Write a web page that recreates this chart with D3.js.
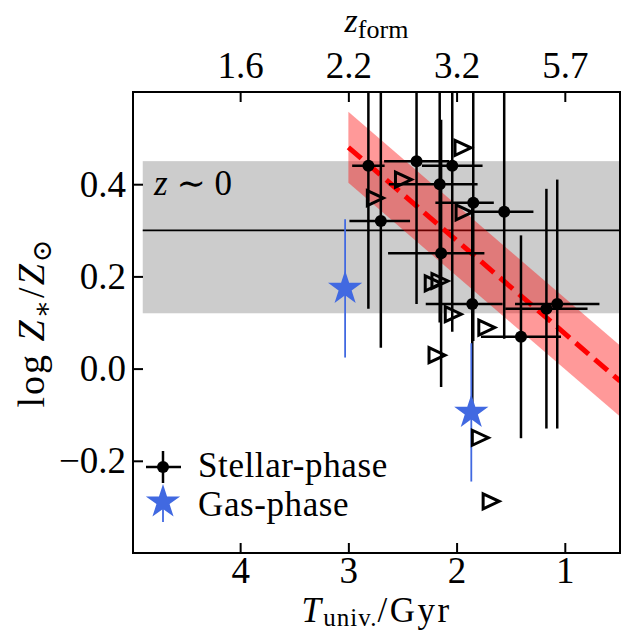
<!DOCTYPE html>
<html>
<head>
<meta charset="utf-8">
<title>Metallicity vs formation time</title>
<style>
  body { margin: 0; background: #fff; }
  .lbl { font-family: "Liberation Serif", "DejaVu Serif", serif; fill: #000; }
</style>
</head>
<body>
<div id="chart"></div>
<script src="https://cdn.jsdelivr.net/npm/d3@7/dist/d3.min.js"></script>
<script>
// stellar-phase measurements (age of universe in Gyr, log Z*/Zsun)
var stellarT      = [2.815, 2.70, 2.37, 2.04, 2.156, 2.143, 1.846, 1.855, 1.56, 1.405, 1.17, 1.07];
var stellarZ      = [0.44, 0.32, 0.45, 0.44, 0.40, 0.25, 0.36, 0.14, 0.34, 0.069, 0.13, 0.14];
var stellarTOlder = [0.15, 0.29, 0.30, 0.28, 0.47, 0.49, 0.35, 0.43, 0.33, 0.37, 0.38, 0.39];
var stellarTYoung = [0.15, 0.27, 0.30, 0.28, 0.35, 0.40, 0.19, 0.28, 0.27, 0.37, 0.38, 0.39];
var stellarZLo    = [0.31, 0.275, 0.31, 0.36, 0.30, 0.29, 0.30, 0.23, 0.275, 0.22, 0.26, 0.27];
var stellarZHi    = [0.31, 0.30, 0.31, 0.36, 0.30, 0.29, 0.30, 0.23, 0.30, 0.22, 0.26, 0.27];

// open right-pointing triangles
var limitT = [1.95, 2.50, 2.76, 1.94, 2.225, 2.163, 2.04, 1.73, 2.19, 1.79, 1.69];
var limitZ = [0.479, 0.41, 0.37, 0.339, 0.185, 0.19, 0.118, 0.089, 0.029, -0.15, -0.288];

// gas-phase measurements
var gasT   = [3.03, 1.864];
var gasZ   = [0.174, -0.095];
var gasErr = [0.15, 0.15];

// local (z~0) band and median
var localBand = [0.12, 0.45];
var localLine = 0.30;

// linear fit and its uncertainty
var fitT   = [3.0, 0.49];
var fitZ   = [0.48, -0.027];
var fitErr = 0.077;

var xTicks     = [4, 3, 2, 1];
var topLabels  = ["1.6", "2.2", "3.2", "5.7"];
var yTicks     = [-0.2, 0.0, 0.2, 0.4];

var W = 623, H = 633;
var L = 133, R = 620, T = 92, B = 553;
var serif = '"Liberation Serif", "DejaVu Serif", serif';

var svg = d3.select("#chart").append("svg")
  .attr("width", W).attr("height", H);

var x = d3.scaleLinear().domain([4.99, 0.49]).range([L, R]);
var y = d3.scaleLinear().domain([-0.4, 0.6]).range([B, T]);

svg.append("clipPath").attr("id", "plot")
  .append("rect").attr("x", L).attr("y", T).attr("width", R - L).attr("height", B - T);

var plot = svg.append("g").attr("clip-path", "url(#plot)");

// grey z~0 band
plot.append("rect")
  .attr("x", x(4.9)).attr("width", x(0.3) - x(4.9))
  .attr("y", y(localBand[1])).attr("height", y(localBand[0]) - y(localBand[1]))
  .attr("fill", "#cccccc");

plot.append("line")
  .attr("x1", x(4.9)).attr("x2", x(0.3))
  .attr("y1", y(localLine)).attr("y2", y(localLine))
  .attr("stroke", "#000").attr("stroke-width", 1.8);

// fit band
var band = d3.area()
  .x(function(d, i) { return x(fitT[i]); })
  .y0(function(d) { return y(d - fitErr); })
  .y1(function(d) { return y(d + fitErr); });
plot.append("path").datum(fitZ)
  .attr("d", band)
  .attr("fill", "red").attr("fill-opacity", 0.4);

plot.append("path").datum(fitZ)
  .attr("d", d3.line().x(function(d, i) { return x(fitT[i]); }).y(function(d) { return y(d); }))
  .attr("fill", "none").attr("stroke", "red").attr("stroke-width", 5)
  .attr("stroke-dasharray", "17,8");

// stellar error bars
var idx = d3.range(stellarT.length);
plot.append("g").selectAll("line.v").data(idx).enter().append("line")
  .attr("x1", function(i) { return x(stellarT[i]); })
  .attr("x2", function(i) { return x(stellarT[i]); })
  .attr("y1", function(i) { return y(stellarZ[i] - stellarZLo[i]); })
  .attr("y2", function(i) { return y(stellarZ[i] + stellarZHi[i]); })
  .attr("stroke", "#000").attr("stroke-width", 2.5);
plot.append("g").selectAll("line.h").data(idx).enter().append("line")
  .attr("x1", function(i) { return x(stellarT[i] + stellarTOlder[i]); })
  .attr("x2", function(i) { return x(stellarT[i] - stellarTYoung[i]); })
  .attr("y1", function(i) { return y(stellarZ[i]); })
  .attr("y2", function(i) { return y(stellarZ[i]); })
  .attr("stroke", "#000").attr("stroke-width", 2.5);
plot.append("g").selectAll("circle").data(idx).enter().append("circle")
  .attr("cx", function(i) { return x(stellarT[i]); })
  .attr("cy", function(i) { return y(stellarZ[i]); })
  .attr("r", 6).attr("fill", "#000");

// gas-phase error bars and stars
function starPath(r) {
  var pts = [];
  for (var k = 0; k < 10; k++) {
    var rad = k % 2 === 0 ? r : r * 0.382;
    var a = -Math.PI / 2 + k * Math.PI / 5;
    pts.push([rad * Math.cos(a), rad * Math.sin(a)]);
  }
  return "M" + pts.map(function(p) { return p[0].toFixed(2) + "," + p[1].toFixed(2); }).join("L") + "Z";
}
var gidx = d3.range(gasT.length);
plot.append("g").selectAll("line").data(gidx).enter().append("line")
  .attr("x1", function(i) { return x(gasT[i]); })
  .attr("x2", function(i) { return x(gasT[i]); })
  .attr("y1", function(i) { return y(gasZ[i] - gasErr[i]); })
  .attr("y2", function(i) { return y(gasZ[i] + gasErr[i]); })
  .attr("stroke", "royalblue").attr("stroke-width", 1.8);

// triangles
var tri = "M-7,-7.5L9,0L-7,7.5Z";
plot.append("g").selectAll("path").data(d3.range(limitT.length)).enter().append("path")
  .attr("d", tri)
  .attr("transform", function(i) { return "translate(" + x(limitT[i]) + "," + y(limitZ[i]) + ")"; })
  .attr("fill", "none").attr("stroke", "#000").attr("stroke-width", 3)
  .attr("stroke-linejoin", "miter");

plot.append("g").selectAll("path").data(gidx).enter().append("path")
  .attr("d", starPath(18))
  .attr("transform", function(i) { return "translate(" + x(gasT[i]) + "," + y(gasZ[i]) + ")"; })
  .attr("fill", "royalblue");

// z~0 label
var zl = svg.append("text").attr("class", "lbl").attr("x", 154).attr("y", 195).attr("font-size", 35);
zl.append("tspan").attr("font-style", "italic").text("z");
zl.append("tspan").text(" \u223C 0");

// axes
function styleAxis(g) {
  g.select(".domain").remove();
  g.selectAll(".tick line").attr("stroke", "#000").attr("stroke-width", 2);
  g.selectAll(".tick text").attr("font-family", serif).attr("font-size", 37).attr("fill", "#000");
}
svg.append("g").attr("transform", "translate(0," + B + ")")
  .call(d3.axisBottom(x).tickValues(xTicks).tickFormat(d3.format("d"))
    .tickSizeInner(-10).tickSizeOuter(0).tickPadding(4))
  .call(styleAxis);
svg.append("g").attr("transform", "translate(0," + T + ")")
  .call(d3.axisTop(x).tickValues(xTicks).tickFormat(function(d, i) { return topLabels[i]; })
    .tickSizeInner(-10).tickSizeOuter(0).tickPadding(14))
  .call(styleAxis);
svg.append("g").attr("transform", "translate(" + L + ",0)")
  .call(d3.axisLeft(y).tickValues(yTicks).tickFormat(d3.format(".1f"))
    .tickSizeInner(-10).tickSizeOuter(0).tickPadding(7))
  .call(styleAxis);

// frame
svg.append("rect").attr("x", L).attr("y", T).attr("width", R - L).attr("height", B - T)
  .attr("fill", "none").attr("stroke", "#000").attr("stroke-width", 2);

// axis titles
var xl = svg.append("text").attr("class", "lbl").attr("x", (L + R) / 2).attr("y", 622)
  .attr("text-anchor", "middle").attr("font-size", 35).attr("letter-spacing", 2.5);
xl.append("tspan").attr("font-style", "italic").text("T");
xl.append("tspan").attr("font-size", 25).attr("letter-spacing", 1).attr("dy", 4).text("univ.");
xl.append("tspan").attr("dy", -4).text("/Gyr");

var tl = svg.append("text").attr("class", "lbl").attr("x", (L + R) / 2).attr("y", 32)
  .attr("text-anchor", "middle").attr("font-size", 34);
tl.append("tspan").attr("font-style", "italic").text("z");
tl.append("tspan").attr("font-size", 26).attr("dy", 6).text("form");

var yl = svg.append("text").attr("class", "lbl")
  .attr("transform", "translate(44," + ((T + B) / 2) + ") rotate(-90)")
  .attr("text-anchor", "middle").attr("font-size", 38).attr("letter-spacing", 2);
yl.append("tspan").text("log ");
yl.append("tspan").attr("font-style", "italic").text("Z");
yl.append("tspan").attr("font-size", 27).attr("dy", 7).text("\u2217");
yl.append("tspan").attr("dy", -7).text("/");
yl.append("tspan").attr("font-style", "italic").text("Z");
yl.append("tspan").attr("font-size", 27).attr("dy", 7).text("\u2299");

// legend
var lg = svg.append("g");
lg.append("line").attr("x1", 146).attr("x2", 181).attr("y1", 467).attr("y2", 467)
  .attr("stroke", "#000").attr("stroke-width", 2.5);
lg.append("line").attr("x1", 163).attr("x2", 163).attr("y1", 451).attr("y2", 483)
  .attr("stroke", "#000").attr("stroke-width", 2.5);
lg.append("circle").attr("cx", 163).attr("cy", 467).attr("r", 6).attr("fill", "#000");
lg.append("line").attr("x1", 163).attr("x2", 163).attr("y1", 495).attr("y2", 522)
  .attr("stroke", "royalblue").attr("stroke-width", 1.8);
lg.append("path").attr("d", starPath(18)).attr("transform", "translate(163,502)").attr("fill", "royalblue");
lg.append("text").attr("class", "lbl").attr("x", 198).attr("y", 477).attr("font-size", 35)
  .attr("letter-spacing", 0.6).text("Stellar-phase");
lg.append("text").attr("class", "lbl").attr("x", 198).attr("y", 516).attr("font-size", 35)
  .attr("letter-spacing", 0.6).text("Gas-phase");
</script>
</body>
</html>
